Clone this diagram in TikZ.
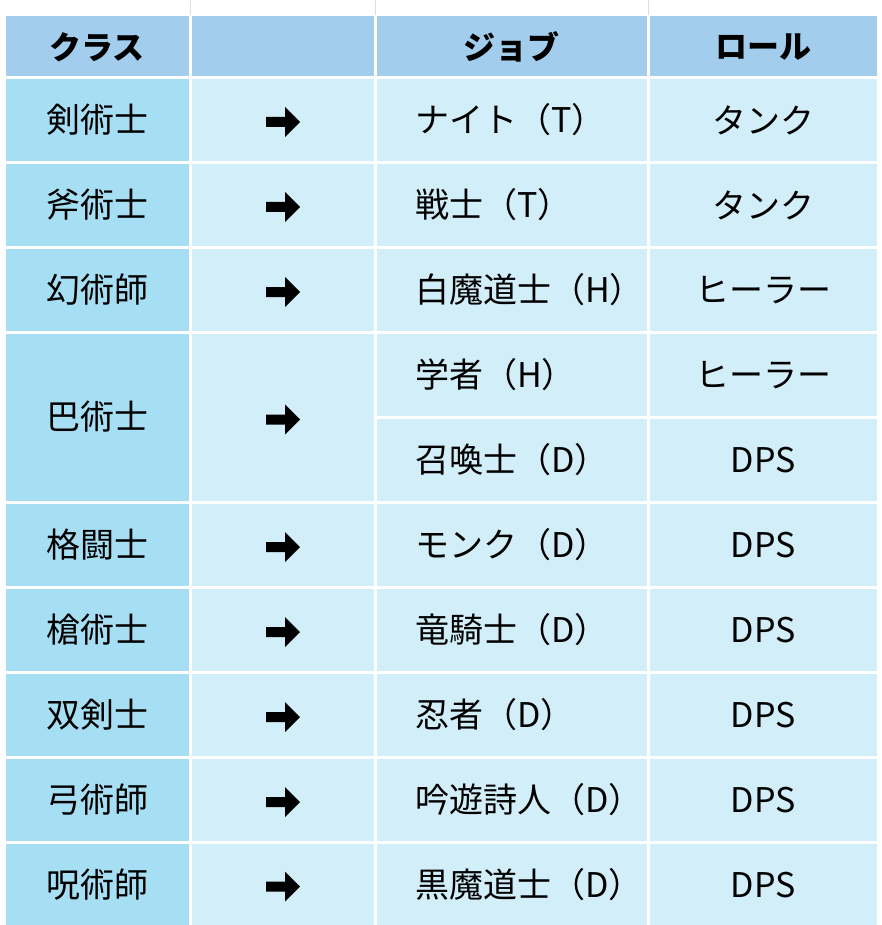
\documentclass[tikz,border=0pt]{standalone}
\usepackage{fontspec}
\setmainfont{Noto Sans CJK JP}
\begin{document}
\begin{tikzpicture}[x=1pt,y=-1pt,
  hdr/.style={fill=hdrc,draw=none},
  c1/.style={fill=firstc,draw=none},
  cc/.style={fill=cellc,draw=none},
  txt/.style={font=\fontsize{34}{36}\selectfont,inner sep=0pt},
  htxt/.style={font=\fontsize{32}{34}\selectfont\bfseries,inner sep=0pt},
  arr/.style={fill=black}]
\definecolor{hdrc}{HTML}{A3CDEC}
\definecolor{firstc}{HTML}{A6DFF3}
\definecolor{cellc}{HTML}{D2EEF8}
\useasboundingbox (0,0) rectangle (882,925);
\foreach \x in {190,375,648} \draw[gray!25,line width=1pt] (\x,0) -- (\x,15);
% header
\fill[hdr] (6,16) rectangle (189,76);
\fill[hdr] (192,16) rectangle (374,76);
\fill[hdr] (377,16) rectangle (647,76);
\fill[hdr] (650,16) rectangle (877,76);
\node[htxt] (h1) at (97,47) {クラス};
\node[htxt] (h3) at (511,47) {ジョブ};
\node[htxt] (h4) at (763,47) {ロール};
% body cells
\foreach \i in {0,...,9}{
  \pgfmathsetmacro{\t}{79+85*\i}
  \pgfmathsetmacro{\b}{\t+82}
  \fill[cc] (377,\t) rectangle (647,\b);
  \fill[cc] (650,\t) rectangle (877,\b);
}
\foreach \t/\b in {79/161,164/246,249/331,334/501,504/586,589/671,674/756,759/841,844/925}{
  \fill[c1] (6,\t) rectangle (189,\b);
  \fill[cc] (192,\t) rectangle (374,\b);
  \pgfmathsetmacro{\m}{(\t+\b)/2+2}
  \fill[arr] (266,\m-5) -- (285,\m-5) -- (285,\m-15) -- (300,\m) -- (285,\m+15) -- (285,\m+5) -- (266,\m+5) -- cycle;
}
\fill[cc] (377,919) rectangle (647,925);
\fill[cc] (650,919) rectangle (877,925);
% texts
\foreach \n/\y/\a/\j/\r in {
 a/120/剣術士/ナイト（T）/タンク,
 b/205/斧術士/戦士（T）/タンク,
 c/290/幻術師/白魔道士（H）/ヒーラー,
 f/545/格闘士/モンク（D）/DPS,
 g/630/槍術士/竜騎士（D）/DPS,
 h/715/双剣士/忍者（D）/DPS,
 i/800/弓術師/吟遊詩人（D）/DPS,
 k/885/呪術師/黒魔道士（D）/DPS}{
  \node[txt] (cl\n) at (97,\y) {\a};
  \node[txt,anchor=west] (jb\n) at (415,\y) {\j};
  \node[txt] (rl\n) at (763,\y) {\r};
}
\node[txt] (cld) at (97,417) {巴術士};
\node[txt,anchor=west] (jbd) at (415,375) {学者（H）};
\node[txt] (rld) at (763,375) {ヒーラー};
\node[txt,anchor=west] (jbe) at (415,460) {召喚士（D）};
\node[txt] (rle) at (763,460) {DPS};
\end{tikzpicture}
\end{document}
